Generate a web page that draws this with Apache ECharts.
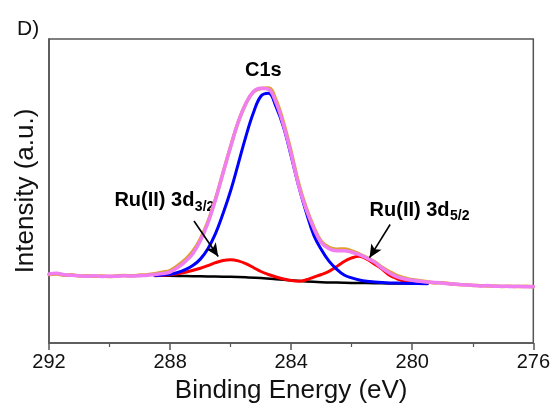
<!DOCTYPE html>
<html>
<head>
<meta charset="utf-8">
<script src="https://cdn.jsdelivr.net/npm/echarts@6/dist/echarts.min.js"></script>
<style>
  html, body { margin: 0; padding: 0; background: #ffffff; }
  #chart { width: 553px; height: 409px; }
</style>
</head>
<body>
<div id="chart"></div>
<script>
// XPS C 1s / Ru 3d region: measured spectrum, fitted envelope, peak components and background.
// Each curve is a list of [binding energy (eV), intensity (a.u.)] pairs.

const xTicks = [292, 288, 284, 280, 276];

const rawSpectrum = [
  [292, 69.2], [291.75, 69.8], [291.5, 68.5], [291.25, 68.9], [291, 67.6], [290.75, 67.8],
  [290.5, 67.4], [290.25, 67.7], [290, 67.1], [289.75, 67.9], [289.5, 68.1], [289.25, 67.9],
  [289, 68.6], [288.75, 69.0], [288.5, 70.0], [288.25, 71.4], [288, 73.2], [287.75, 78.0],
  [287.5, 84.3], [287.25, 92.5], [287, 105.0], [286.75, 122.5], [286.5, 145.5], [286.25, 172.2],
  [286, 198.5], [285.75, 223.0], [285.5, 241.5], [285.25, 253.5], [285, 257.0], [284.75, 257.6],
  [284.5, 245.2], [284.25, 222.3], [284, 193.0], [283.75, 160.8], [283.5, 136.2], [283.25, 116.9],
  [283, 102.4], [282.75, 96.6], [282.5, 94.8], [282.25, 95.0], [282, 93.0], [281.75, 89.9],
  [281.5, 86.3], [281.25, 82.2], [281, 76.6], [280.75, 72.0], [280.5, 68.1], [280.25, 65.6],
  [280, 63.9], [279.75, 62.9], [279.5, 61.8], [279.25, 60.7], [279, 60.8], [278.75, 59.9],
  [278.5, 59.0], [278.25, 58.9], [278, 58.1], [277.75, 57.9], [277.5, 57.6], [277.25, 57.6],
  [277, 57.1], [276.75, 57.3], [276.5, 57.0], [276.25, 57.2], [276, 56.8]
];

const envelope = [
  [292, 69.7], [291.75, 70.4], [291.5, 68.9], [291.25, 68.4], [291, 68.0], [290.75, 67.3],
  [290.5, 67.9], [290.25, 67.2], [290, 67.4], [289.75, 67.5], [289.5, 67.8], [289.25, 67.6],
  [289, 68.0], [288.75, 68.4], [288.5, 69.1], [288.25, 70.2], [288, 71.7], [287.75, 76.2],
  [287.5, 82.2], [287.25, 90.2], [287, 103.2], [286.75, 121.2], [286.5, 144.7], [286.25, 171.7],
  [286, 198.2], [285.75, 223.2], [285.5, 241.7], [285.25, 253.7], [285, 257.2], [284.75, 256.2],
  [284.5, 242.7], [284.25, 219.7], [284, 190.7], [283.75, 158.7], [283.5, 134.7], [283.25, 115.7],
  [283, 101.2], [282.75, 95.2], [282.5, 93.2], [282.25, 93.2], [282, 91.7], [281.75, 89.2],
  [281.5, 85.7], [281.25, 81.7], [281, 75.7], [280.75, 70.7], [280.5, 66.7], [280.25, 64.7],
  [280, 63.4], [279.75, 62.3], [279.5, 61.5], [279.25, 61.1], [279, 60.5], [278.75, 59.6],
  [278.5, 59.4], [278.25, 58.5], [278, 58.4], [277.75, 57.6], [277.5, 58.0], [277.25, 57.3],
  [277, 57.4], [276.75, 57.0], [276.5, 57.3], [276.25, 56.9], [276, 57.1]
];

const c1sPeak = [
  [288.5, 68.2], [288.25, 68.7], [288, 69.5], [287.75, 71.2], [287.5, 74.0], [287.25, 78.2],
  [287, 84.7], [286.75, 95.2], [286.5, 110.4], [286.25, 130.7], [286, 153.7], [285.75, 180.7],
  [285.5, 208.2], [285.25, 232.2], [285, 249.2], [284.75, 252.2], [284.5, 238.7], [284.25, 217.7],
  [284, 188.7], [283.75, 158.2], [283.5, 131.7], [283.25, 108.7], [283, 94.2], [282.75, 82.7],
  [282.5, 74.7], [282.25, 68.7], [282, 65.7], [281.75, 63.7], [281.5, 62.4], [281.25, 61.7],
  [281, 61.2], [280.5, 60.5], [280, 60.1], [279.5, 59.9]
];

const ruPeaks = [
  [288.5, 68.0], [288, 68.9], [287.5, 71.4], [287, 75.5], [286.75, 78.2], [286.5, 81.1],
  [286.25, 83.3], [286, 84.0], [285.75, 82.9], [285.5, 80.2], [285.25, 76.2], [285, 72.2],
  [284.75, 69.2], [284.5, 66.7], [284.25, 64.7], [284, 63.1], [283.75, 62.4], [283.5, 63.8],
  [283.25, 66.5], [283, 69.2], [282.75, 72.4], [282.5, 77.0], [282.25, 82.3], [282, 85.9],
  [281.75, 87.6], [281.5, 84.7], [281.25, 79.8], [281, 74.7], [280.75, 68.4], [280.5, 64.9],
  [280.25, 62.5], [280, 61.5], [279.5, 60.4]
];

const background = [
  [288.5, 68.0], [288, 67.8], [287.5, 67.6], [287, 67.3], [286.5, 67.1], [286, 66.8],
  [285.5, 66.3], [285, 65.6], [284.5, 64.5], [284, 63.2], [283.5, 62.1], [283, 61.4],
  [282.5, 61.0], [282, 60.7], [281.5, 60.5], [281, 60.3], [280.5, 60.1], [280, 60.0],
  [279.5, 59.9]
];

// Annotation anchors in data units [eV, a.u.]
const notes = {
  c1s:   { at: [284.92, 274.7], text: 'C1s' },
  ru32:  { at: [289.84, 143.7], main: 'Ru(II) 3d', sub: '3/2' },
  ru52:  { at: [281.41, 133.7], main: 'Ru(II) 3d', sub: '5/2' },
  arrow32: [[287.21, 123.2], [286.41, 87.4]],
  arrow52: [[280.73, 119.7], [281.41, 86.2]]
};

const FONT = '"Liberation Sans", Arial, Helvetica, sans-serif';

const chart = echarts.init(document.getElementById('chart'), null, { renderer: 'canvas' });

function curve(name, data, color, width) {
  return {
    name, type: 'line', data,
    showSymbol: false, symbol: 'none',
    smooth: 0.4,
    lineStyle: { color, width, cap: 'round', join: 'round' },
    emphasis: { disabled: true },
    silent: true
  };
}

const bgSeries = curve('Background', background, '#000000', 2.5);
bgSeries.markLine = {
  silent: true,
  symbol: ['none', 'arrow'],
  symbolSize: [9, 13],
  label: { show: false },
  lineStyle: { color: '#000000', width: 1.6, type: 'solid' },
  emphasis: { disabled: true },
  data: [
    [{ coord: notes.arrow32[0] }, { coord: notes.arrow32[1] }],
    [{ coord: notes.arrow52[0] }, { coord: notes.arrow52[1] }]
  ]
};

chart.setOption({
  animation: false,
  backgroundColor: '#ffffff',
  title: {
    text: 'D)', left: 12, top: 14,
    textStyle: { fontFamily: FONT, fontSize: 21, fontWeight: 'normal', color: '#111' }
  },
  grid: {
    left: 49, right: 14.5, top: 39, bottom: 63.3,
    show: true, borderColor: '#555555', borderWidth: 1.5, backgroundColor: 'transparent'
  },
  xAxis: {
    type: 'value',
    inverse: true,
    min: xTicks[xTicks.length - 1], max: xTicks[0], interval: 4,
    name: 'Binding Energy (eV)', nameLocation: 'middle', nameGap: 35,
    nameTextStyle: { fontFamily: FONT, fontSize: 26, color: '#111' },
    axisLine: { show: true, lineStyle: { color: '#555555', width: 1.5 } },
    axisTick: { show: true, inside: false, length: 7, lineStyle: { color: '#555555', width: 1.5 } },
    minorTick: { show: true, splitNumber: 2, length: 4, lineStyle: { color: '#555555', width: 1.2 } },
    axisLabel: { fontFamily: FONT, fontSize: 20, color: '#111', margin: 9 },
    splitLine: { show: false }
  },
  yAxis: {
    type: 'value', min: 0, max: 307,
    name: 'Intensity (a.u.)', nameLocation: 'middle', nameGap: 10,
    nameTextStyle: { fontFamily: FONT, fontSize: 26, color: '#111' },
    axisLine: { show: true, lineStyle: { color: '#555555', width: 1.5 } },
    axisTick: { show: false },
    axisLabel: { show: false },
    splitLine: { show: false }
  },
  series: [
    bgSeries,
    curve('Ru(II) 3d', ruPeaks, '#ff0000', 3),
    curve('C1s', c1sPeak, '#0000ff', 3),
    curve('Raw', rawSpectrum, '#e0a030', 3.5),
    curve('Envelope', envelope, '#f07ef0', 3.5)
  ]
});

// Place the peak labels at their data positions, with subscripts beside the main text.
const measure = document.createElement('canvas').getContext('2d');
function textWidth(str, size) {
  measure.font = 'bold ' + size + 'px ' + FONT;
  return measure.measureText(str).width;
}
function labelWithSub(note) {
  const p = chart.convertToPixel({ gridIndex: 0 }, note.at);
  const w = textWidth(note.main, 20);
  return [
    { type: 'text', x: p[0], y: p[1], silent: true,
      style: { text: note.main, font: 'bold 20px ' + FONT, fill: '#000', align: 'left', verticalAlign: 'middle' } },
    { type: 'text', x: p[0] + w + 0.5, y: p[1] + 6, silent: true,
      style: { text: note.sub, font: 'bold 14px ' + FONT, fill: '#000', align: 'left', verticalAlign: 'middle' } }
  ];
}
const c1sPos = chart.convertToPixel({ gridIndex: 0 }, notes.c1s.at);
chart.setOption({
  graphic: [
    { type: 'text', x: c1sPos[0], y: c1sPos[1], silent: true,
      style: { text: notes.c1s.text, font: 'bold 20px ' + FONT, fill: '#000', align: 'center', verticalAlign: 'middle' } }
  ].concat(labelWithSub(notes.ru32), labelWithSub(notes.ru52))
});
</script>
</body>
</html>
